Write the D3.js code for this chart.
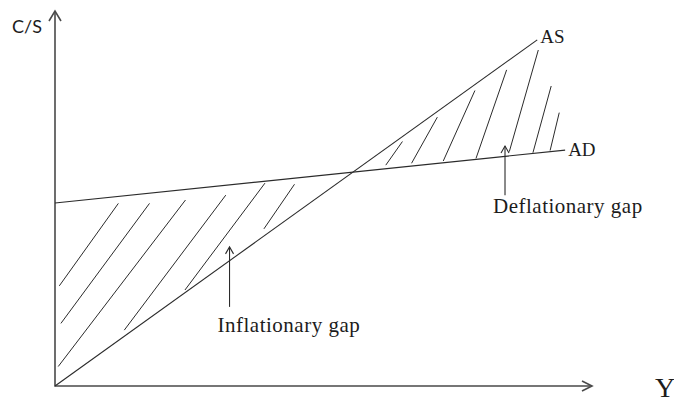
<!DOCTYPE html>
<head>
    <meta charset="utf-8" />
    <title>Inflationary and deflationary gap</title>
</head>
<style>
    body {
        margin: 0;
        background-color: #ffffff;
    }

    .curve {
        fill: none;
        stroke: #2b2b2b;
        stroke-width: 1.1px;
    }

    .hatch {
        stroke: #2b2b2b;
        stroke-width: 1px;
    }

    .axis {
        fill: none;
        stroke: #4a4a4a;
        stroke-width: 1.6px;
    }

    .label {
        font-family: "Liberation Serif", serif;
        fill: #1c1c1c;
    }
</style>
<body>
    <svg id="chart" width="674" height="403"></svg>
    <script src="https://d3js.org/d3.v7.min.js"></script>
    <script>
        // curves: [Y, C/S] end points in chart units (0..100 on both axes)
        var asLine = [[0, 0], [89.8, 92.3]];
        var adLine = [[0, 48.8], [95, 62.9]];

        // hatching in the inflationary gap (upper end, lower end)
        var inflHatch = [
            [[11.8, 48.7], [0.8, 26.7]],
            [[17.6, 48.7], [1.1, 16.7]],
            [[24.3, 49.6], [0.6, 5.2]],
            [[31.8, 50.9], [12.9, 14.9]],
            [[39.1, 54.1], [24.2, 25.6]],
            [[44.6, 53.8], [38.9, 41.9]]
        ];

        // hatching in the deflationary gap
        var deflHatch = [
            [[64.7, 65.2], [61.6, 58.9]],
            [[71.2, 71.7], [66.4, 59.4]],
            [[78.2, 78.8], [72.3, 60.0]],
            [[84.1, 84.3], [78.4, 60.7]],
            [[90.0, 89.6], [84.6, 62.5]],
            [[92.4, 80.0], [89.0, 62.2]],
            [[93.9, 72.9], [92.2, 62.8]]
        ];

        // pointer arrows: x, tip, tail
        var pointers = [
            { name: "Inflationary gap", x: 32.5, tip: 37.1, tail: 21.1 },
            { name: "Deflationary gap", x: 83.8, tip: 64.0, tail: 50.9 }
        ];
        // gap between arrow tail and label baseline, px
        var labelDy = [25, 18];

        var svg = d3.select("#chart");

        var x = d3.scaleLinear().domain([0, 100]).range([55, 592]);
        var y = d3.scaleLinear().domain([0, 100]).range([386, 11]);

        var line = d3.line()
            .x(function(d) { return x(d[0]); })
            .y(function(d) { return y(d[1]); });

        // axes with open arrow heads
        svg.append("path")
            .attr("class", "axis")
            .attr("d", line([[0, 100], [0, 0], [100, 0]]));

        svg.append("path")
            .attr("class", "axis")
            .attr("d", "M" + (x(0) - 6) + "," + (y(100) + 10) + "L" + x(0) + "," + y(100) + "L" + (x(0) + 6) + "," + (y(100) + 10));

        svg.append("path")
            .attr("class", "axis")
            .attr("d", "M" + (x(100) - 10) + "," + (y(0) - 5) + "L" + x(100) + "," + y(0) + "L" + (x(100) - 10) + "," + (y(0) + 5));

        // hatching
        svg.selectAll(".hatch")
            .data(inflHatch.concat(deflHatch))
            .enter().append("line")
            .attr("class", "hatch")
            .attr("x1", function(d) { return x(d[0][0]); })
            .attr("y1", function(d) { return y(d[0][1]); })
            .attr("x2", function(d) { return x(d[1][0]); })
            .attr("y2", function(d) { return y(d[1][1]); });

        // AS and AD
        svg.append("path").attr("class", "curve").attr("d", line(asLine));
        svg.append("path").attr("class", "curve").attr("d", line(adLine));

        // pointers
        var ptr = svg.selectAll(".pointer")
            .data(pointers)
            .enter().append("g")
            .attr("class", "pointer");

        ptr.append("line")
            .attr("class", "curve")
            .attr("x1", function(d) { return x(d.x); })
            .attr("x2", function(d) { return x(d.x); })
            .attr("y1", function(d) { return y(d.tip); })
            .attr("y2", function(d) { return y(d.tail); });

        ptr.append("path")
            .attr("class", "curve")
            .attr("d", function(d) {
                var px = x(d.x), py = y(d.tip);
                return "M" + (px - 4) + "," + (py + 7) + "L" + px + "," + py + "L" + (px + 4) + "," + (py + 7);
            });

        ptr.append("text")
            .attr("class", "label")
            .attr("x", function(d) { return x(d.x) - 12; })
            .attr("y", function(d, i) { return y(d.tail) + labelDy[i]; })
            .attr("font-size", "21px")
            .attr("letter-spacing", "0.5px")
            .text(function(d) { return d.name; });

        // curve labels
        svg.append("text")
            .attr("class", "label")
            .attr("x", x(asLine[1][0]) + 3)
            .attr("y", y(asLine[1][1]) + 3)
            .attr("font-size", "19px")
            .text("AS");

        svg.append("text")
            .attr("class", "label")
            .attr("x", x(adLine[1][0]) + 3)
            .attr("y", y(adLine[1][1]) + 6)
            .attr("font-size", "19px")
            .text("AD");

        // axis titles
        svg.append("text")
            .attr("x", 12)
            .attr("y", 33)
            .attr("font-family", "Lato, sans-serif")
            .attr("font-size", "18px")
            .attr("fill", "#1c1c1c")
            .text("C/S");

        svg.append("text")
            .attr("class", "label")
            .attr("x", 655)
            .attr("y", 397)
            .attr("font-size", "28px")
            .text("Y");
    </script>
</body>
